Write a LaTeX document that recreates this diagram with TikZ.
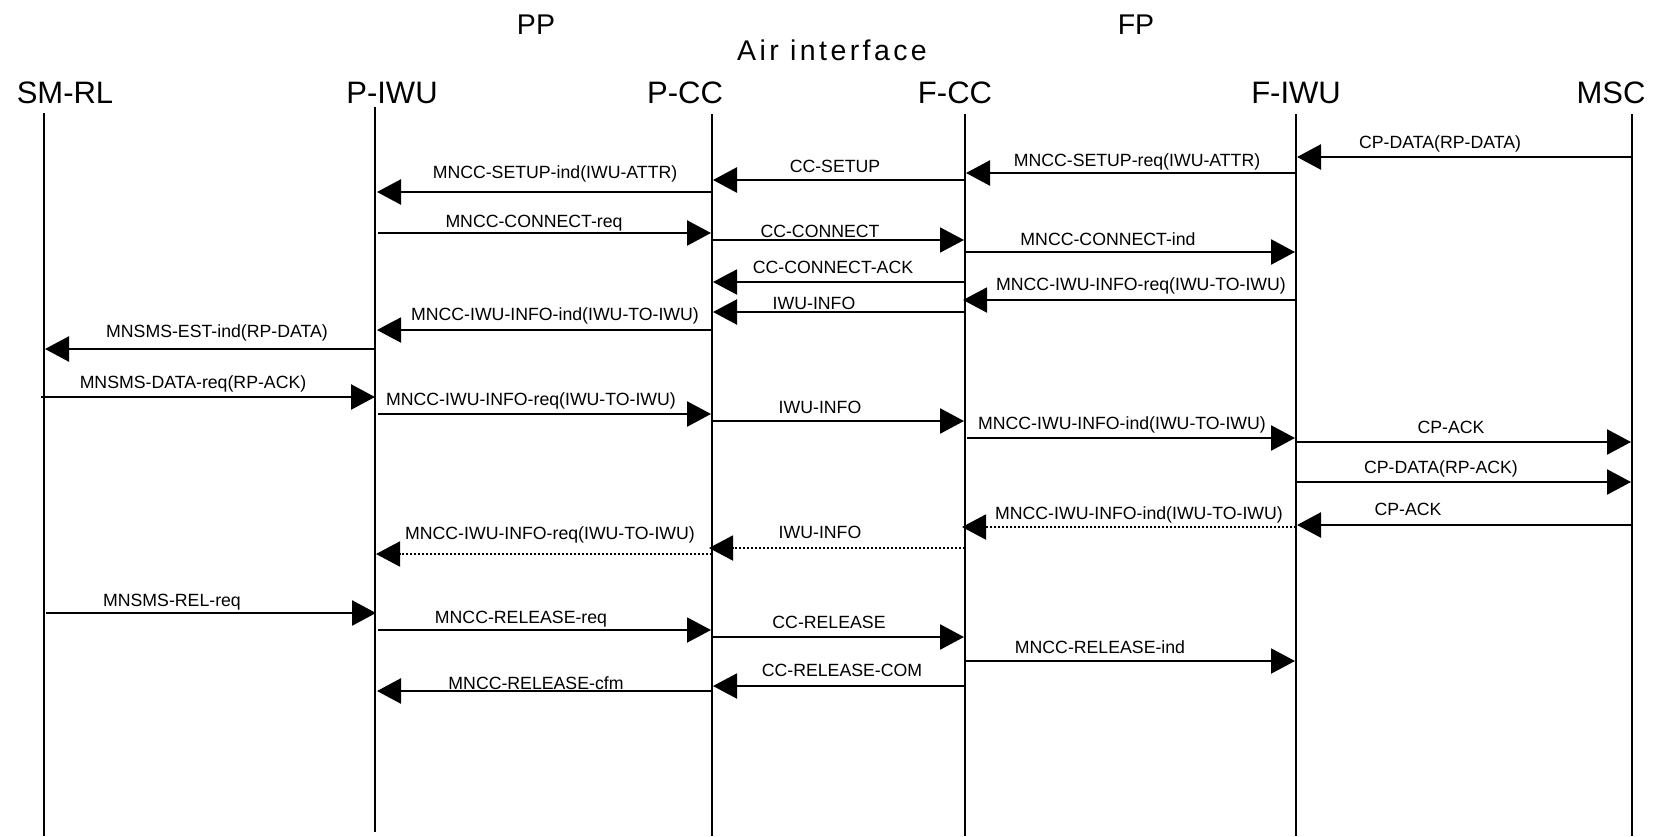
\documentclass[tikz,border=0pt]{standalone}
\usepackage{fontspec}
\setmainfont{Liberation Sans}
\newfontfamily\spacedfont[LetterSpace=12]{Liberation Sans}
\usetikzlibrary{arrows.meta}
\tikzset{
  lifeline/.style={line width=2pt},
  head/.style={anchor=base, inner sep=0pt, font=\fontsize{31}{34}\selectfont},
  group/.style={anchor=base, inner sep=0pt, font=\fontsize{28.5}{32}\selectfont},
  lbl/.style={anchor=base, inner sep=0pt, font=\fontsize{17.7}{20}\selectfont},
  msg/.style={line width=2.5pt, -{Triangle[length=24pt,width=25pt]}},
  dmsg/.style={msg, line width=2pt, dash pattern=on 2pt off 2pt}
}
\begin{document}
\begin{tikzpicture}[x=1pt,y=-1pt]
\useasboundingbox (0,0) rectangle (1654,836);
% group titles
\node[group] (pp) at (536,34) {PP};
\node[group] (fp) at (1136,34) {FP};
\node[group, font=\spacedfont\fontsize{28.5}{32}\selectfont] (air) at (832,60) {Air interface};
% lifeline heads
\node[head] (hsmrl) at (65,103) {SM-RL};
\node[head] (hpiwu) at (392,103) {P-IWU};
\node[head] (hpcc) at (685,103) {P-CC};
\node[head] (hfcc) at (955,103) {F-CC};
\node[head] (hfiwu) at (1296,103) {F-IWU};
\node[head] (hmsc) at (1611,103) {MSC};
% lifelines
\coordinate (smrl) at (44,113);
\coordinate (piwu) at (375,107);
\coordinate (pcc) at (712,114);
\coordinate (fcc) at (965,114);
\coordinate (fiwu) at (1296,114);
\coordinate (msc) at (1632,114);
\coordinate (smrlB) at (44,836);
\coordinate (piwuB) at (375,832);
\coordinate (pccB) at (712,836);
\coordinate (fccB) at (965,836);
\coordinate (fiwuB) at (1296,836);
\coordinate (mscB) at (1632,836);
\draw[lifeline] (smrl) -- (smrlB);
\draw[lifeline] (piwu) -- (piwuB);
\draw[lifeline] (pcc) -- (pccB);
\draw[lifeline] (fcc) -- (fccB);
\draw[lifeline] (fiwu) -- (fiwuB);
\draw[lifeline] (msc) -- (mscB);
% messages
\draw[msg] (msc |- 0,157) -- ([xshift=1pt]fiwu |- 0,157);
\node[lbl] (l4) at (1440,148) {CP-DATA(RP-DATA)};
\draw[msg] (fiwu |- 0,173) -- ([xshift=1pt]fcc |- 0,173);
\node[lbl] (l3) at (1137,166) {MNCC-SETUP-req(IWU-ATTR)};
\draw[msg] (fcc |- 0,180) -- ([xshift=1pt]pcc |- 0,180);
\node[lbl] (l2) at (835,172) {CC-SETUP};
\draw[msg] (pcc |- 0,192) -- ([xshift=2pt]piwu |- 0,192);
\node[lbl] (l1) at (555,178) {MNCC-SETUP-ind(IWU-ATTR)};
\draw[msg] ([xshift=3pt]piwu |- 0,233) -- ([xshift=-1pt]pcc |- 0,233);
\node[lbl] (l5) at (534,227) {MNCC-CONNECT-req};
\draw[msg, line width=1.8pt] (pcc |- 0,240) -- ([xshift=-1pt]fcc |- 0,240);
\node[lbl] (l6) at (820,237) {CC-CONNECT};
\draw[msg] (fcc |- 0,252) -- ([xshift=-1pt]fiwu |- 0,252);
\node[lbl] (l7) at (1108,245) {MNCC-CONNECT-ind};
\draw[msg, line width=2pt] (fcc |- 0,282) -- ([xshift=1pt]pcc |- 0,282);
\node[lbl] (l8) at (833,273) {CC-CONNECT-ACK};
\draw[msg, line width=2pt] (fiwu |- 0,300) -- ([xshift=-2pt]fcc |- 0,300);
\node[lbl] (l9) at (1141,290) {MNCC-IWU-INFO-req(IWU-TO-IWU)};
\draw[msg, line width=2.2pt] (fcc |- 0,312) -- ([xshift=1pt]pcc |- 0,312);
\node[lbl] (l10) at (814,309) {IWU-INFO};
\draw[msg, line width=2pt] (pcc |- 0,330) -- ([xshift=2pt]piwu |- 0,330);
\node[lbl] (l11) at (555,320) {MNCC-IWU-INFO-ind(IWU-TO-IWU)};
\draw[msg] (piwu |- 0,349) -- ([xshift=1pt]smrl |- 0,349);
\node[lbl] (l12) at (217,337) {MNSMS-EST-ind(RP-DATA)};
\draw[msg] ([xshift=-3pt]smrl |- 0,397) -- (piwu |- 0,397);
\node[lbl] (l13) at (193,388) {MNSMS-DATA-req(RP-ACK)};
\draw[msg] ([xshift=3pt]piwu |- 0,414) -- ([xshift=-1pt]pcc |- 0,414);
\node[lbl] (l14) at (531,405) {MNCC-IWU-INFO-req(IWU-TO-IWU)};
\draw[msg] (pcc |- 0,421) -- ([xshift=-1pt]fcc |- 0,421);
\node[lbl] (l15) at (820,413) {IWU-INFO};
\draw[msg] ([xshift=2pt]fcc |- 0,438) -- ([xshift=-1pt]fiwu |- 0,438);
\node[lbl] (l16) at (1122,429) {MNCC-IWU-INFO-ind(IWU-TO-IWU)};
\draw[msg] (fiwu |- 0,442) -- ([xshift=-1pt]msc |- 0,442);
\node[lbl] (l17) at (1451,433) {CP-ACK};
\draw[msg] (fiwu |- 0,482) -- ([xshift=-1pt]msc |- 0,482);
\node[lbl] (l18) at (1441,473) {CP-DATA(RP-ACK)};
\draw[msg] (msc |- 0,525) -- ([xshift=1pt]fiwu |- 0,525);
\node[lbl] (l19) at (1408,515) {CP-ACK};
\draw[dmsg] (fiwu |- 0,527) -- ([xshift=-3pt]fcc |- 0,527);
\node[lbl] (l20) at (1139,519) {MNCC-IWU-INFO-ind(IWU-TO-IWU)};
\draw[dmsg] (fcc |- 0,548) -- ([xshift=-3pt]pcc |- 0,548);
\node[lbl] (l21) at (820,538) {IWU-INFO};
\draw[dmsg] (pcc |- 0,554) -- ([xshift=1pt]piwu |- 0,554);
\node[lbl] (l22) at (550,539) {MNCC-IWU-INFO-req(IWU-TO-IWU)};
\draw[msg] ([xshift=2pt]smrl |- 0,613) -- ([xshift=1pt]piwu |- 0,613);
\node[lbl] (l23) at (172,606) {MNSMS-REL-req};
\draw[msg, line width=2pt] ([xshift=3pt]piwu |- 0,630) -- ([xshift=-1pt]pcc |- 0,630);
\node[lbl] (l24) at (521,623) {MNCC-RELEASE-req};
\draw[msg] (pcc |- 0,637) -- ([xshift=-1pt]fcc |- 0,637);
\node[lbl] (l25) at (829,628) {CC-RELEASE};
\draw[msg, line width=2pt] ([xshift=-1pt]fcc |- 0,661) -- ([xshift=-1pt]fiwu |- 0,661);
\node[lbl] (l26) at (1100,653) {MNCC-RELEASE-ind};
\draw[msg, line width=2pt] (fcc |- 0,686) -- ([xshift=1pt]pcc |- 0,686);
\node[lbl] (l27) at (842,676) {CC-RELEASE-COM};
\draw[msg] (pcc |- 0,691) -- ([xshift=2pt]piwu |- 0,691);
\node[lbl] (l28) at (536,689) {MNCC-RELEASE-cfm};
\end{tikzpicture}
\end{document}
